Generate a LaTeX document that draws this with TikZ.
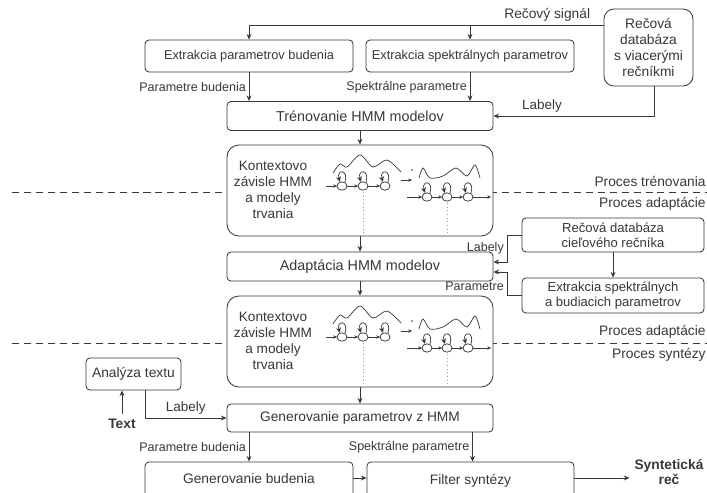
\documentclass[tikz,border=0pt]{standalone}
\usepackage{fontspec}
\setmainfont{Liberation Sans}
\usetikzlibrary{positioning, arrows.meta, calc}

\begin{document}
\begin{tikzpicture}[x=0.025cm, y=-0.025cm, line width=0.6pt, color=black!78,
                    >={Stealth[length=4pt, width=3.5pt]},
                    box/.style={rectangle, draw, fill=white, rounded corners=0.1cm, inner sep=1pt, align=center, font=\fontsize{9.8}{11}\selectfont},
                    hmmbox/.style={rectangle, draw, fill=white, rounded corners=0.3cm, minimum width=6.65cm, minimum height=2.275cm},
                    hmmtxt/.style={align=center, font=\fontsize{9.7}{11.4}\selectfont},
                    lbl/.style={inner sep=2pt, font=\fontsize{8.9}{10}\selectfont},
                    proc/.style={anchor=east, inner sep=0pt, font=\fontsize{9.8}{11}\selectfont},
                    tiny/.style={line width=0.5pt, -{Stealth[length=2.6pt, width=2.4pt]}}]
                    \useasboundingbox (0,0) rectangle (707,492);

                    % Process borders
                    \draw[dash pattern=on 5pt off 3.5pt] (12,192) -- (707,192);
                    \draw[dash pattern=on 5pt off 3.5pt] (12,343) -- (707,343);
                    \node[proc] (ptren) at (706,181) {Proces trénovania};
                    \node[proc] (padapt1) at (706,204) {Proces adaptácie};
                    \node[proc] (padapt2) at (706,332) {Proces adaptácie};
                    \node[proc] (psynt) at (706,355) {Proces syntézy};

                    % Nodes
                    \node[box, minimum width=5.2cm, minimum height=0.8cm, font=\fontsize{9.1}{11}\selectfont] (extbud) at (249,56) {Extrakcia parametrov budenia};
                    \node[box, minimum width=5.2cm, minimum height=0.8cm, font=\fontsize{9.1}{11}\selectfont] (extspek) at (470,56) {Extrakcia spektrálnych parametrov};
                    \node[box, rounded corners=0.25cm, minimum width=2.225cm, minimum height=1.925cm, font=\fontsize{9.8}{11.4}\selectfont] (db) at (648.5,47.5) {Rečová\\databáza\\s viacerými\\rečníkmi};
                    \node[box, minimum width=6.65cm, minimum height=0.725cm, font=\fontsize{10.2}{11}\selectfont] (tren) at (360,116) {Trénovanie HMM modelov};
                    \node[hmmbox] (hmmtr) at (360,190.5) {};
                    \node[hmmtxt] (hmmtrtxt) at (273,190) {Kontextovo\\závisle HMM\\a modely\\trvania};
                    \node[box, minimum width=6.65cm, minimum height=0.725cm, font=\fontsize{10.2}{11}\selectfont] (adapt) at (360,266.5) {Adaptácia HMM modelov};
                    \node[box, minimum width=4.55cm, minimum height=0.85cm, font=\fontsize{9.3}{10.8}\selectfont] (cieldb) at (613,235) {Rečová databáza\\cieľového rečníka};
                    \node[box, minimum width=4.55cm, minimum height=0.875cm, font=\fontsize{9.3}{10.8}\selectfont] (cielext) at (613,295.5) {Extrakcia spektrálnych\\a budiacich parametrov};
                    \node[hmmbox] (hmmad) at (360,341.5) {};
                    \node[hmmtxt] (hmmadtxt) at (273,341) {Kontextovo\\závisle HMM\\a modely\\trvania};
                    \node[box, minimum width=2.375cm, minimum height=0.8cm] (analyza) at (133.5,374) {Analýza textu};
                    \node[font=\fontsize{9.8}{11}\selectfont\bfseries] (text) at (122,424) {Text};
                    \node[box, minimum width=6.65cm, minimum height=0.7cm] (genpar) at (360,418) {Generovanie parametrov z HMM};
                    % bottom row runs past the lower page edge
                    \node[box, minimum width=5.2cm, minimum height=1.2cm, text depth=0.35cm] (genbud) at (249,486) {Generovanie budenia};
                    \node[box, minimum width=5.175cm, minimum height=1.2cm, text depth=0.35cm] (filter) at (470.5,486) {Filter syntézy};
                    \node[align=center, font=\fontsize{9.8}{11}\selectfont\bfseries] (rec) at (669,472) {Syntetická\\reč};
                    \coordinate (row) at (0,478);

                    % HMM chains inside both model boxes
                    \foreach \oy in {0,151} {
                        \begin{scope}[shift={(0,\oy)}]
                            \draw[line width=0.5pt] plot[smooth] coordinates {(333,173) (340,164) (347,167) (360,155) (373,167) (387,160) (401,172)};
                            \foreach \sx in {342,363,385} {
                                \draw[line width=0.5pt] (\sx,186) ellipse [x radius=0.125cm, y radius=0.105cm];
                                \draw[tiny, <-] (\sx-2,182) .. controls (\sx-6,169) and (\sx+7,169) .. (\sx+3,182);
                            }
                            \draw[tiny] (326,186) -- (337,186);
                            \draw[tiny] (347,186) -- (358,186);
                            \draw[tiny] (368,186) -- (380,186);
                            \draw[tiny] (401,180) -- (412,180);
                            \fill (412,170) circle (0.6pt);
                            \draw[line width=0.5pt] plot[smooth] coordinates {(419,178) (423,168) (430,178) (443,176) (456,168) (467,176) (475,165) (480,178)};
                            \foreach \sx in {427,447,468} {
                                \draw[line width=0.5pt] (\sx,197) ellipse [x radius=0.125cm, y radius=0.105cm];
                                \draw[tiny, <-] (\sx-2,193) .. controls (\sx-6,180) and (\sx+7,180) .. (\sx+3,193);
                            }
                            \draw[tiny] (407,197) -- (422,197);
                            \draw[tiny] (432,197) -- (442,197);
                            \draw[tiny] (452,197) -- (463,197);
                            \draw[tiny] (473,197) -- (491,197);
                            \draw[dotted, black!40] (363,192) -- (363,234);
                            \draw[dotted, black!40] (447,203) -- (447,234);
                        \end{scope}
                    }

                    % Edges
                    % speech signal to both extractions
                    \coordinate (sig) at (604,25);
                    \draw[->] (sig) -| node[pos=0.08, above, lbl, font=\fontsize{9.8}{11}\selectfont] {Rečový signál} (extbud.north);
                    \draw[->] (sig -| extspek.north) -- (extspek.north);

                    % extraction to training
                    \draw[->] (extbud.south) -- node[midway, left, lbl] {Parametre budenia} (extbud.south |- tren.north);
                    \draw[->] (extspek.south) -- node[midway, left, lbl] {Spektrálne parametre} (extspek.south |- tren.north);
                    \draw[->] ([xshift=0.16cm]db.south) |- node[pos=0.85, above, lbl, font=\fontsize{9.6}{11}\selectfont] {Labely} (tren.east);

                    % main chain
                    \draw[->] (tren) -- (hmmtr);
                    \draw[->] (hmmtr) -- (adapt);
                    \draw[->] (adapt) -- (hmmad);
                    \draw[->] (hmmad) -- (genpar);

                    % target speaker
                    \coordinate (lab1) at (507,262);
                    \coordinate (par1) at (507,272);
                    \draw[->] (cieldb.south -| cielext.north) -- (cielext.north);
                    \draw[->] (cieldb.west) -| node[pos=0.75, left, lbl] {Labely} (lab1) -- (lab1 -| adapt.east);
                    \draw[->] (cielext.west) -| node[pos=0.7, left, lbl] {Parametre} (par1) -- (par1 -| adapt.east);

                    % synthesis
                    \draw[->] (text.north) -- (analyza.south -| text.north);
                    \draw[->] ([xshift=0.29cm]analyza.south) |- node[pos=0.75, above, lbl, font=\fontsize{9.6}{11}\selectfont] {Labely} (genpar.west);
                    \draw[->] (genpar.south -| genbud.north) -- node[midway, left, lbl] {Parametre budenia} (genbud.north);
                    \draw[->] ([xshift=0.05cm]genpar.south -| filter.north) -- node[midway, left, lbl] {Spektrálne parametre} ([xshift=0.05cm]filter.north);
                    \draw[->] (genbud.east |- row) -- (filter.west |- row);
                    \draw[->] (filter.east |- row) -- (rec.west |- row);

                \end{tikzpicture}
\end{document}
